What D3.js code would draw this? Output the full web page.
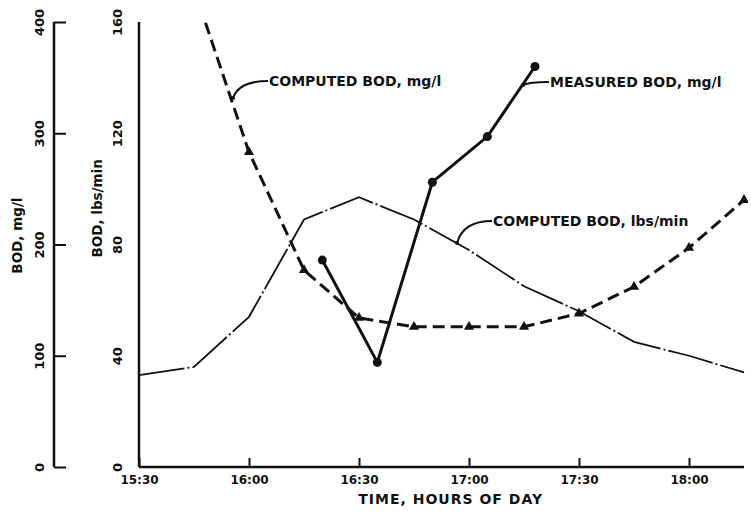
<!DOCTYPE html>
<html>
<head>
<meta charset="utf-8">
<script src="https://cdnjs.cloudflare.com/ajax/libs/d3/7.8.5/d3.min.js"></script>
<style>
  body { margin: 0; background: #fff; }
  text { font-family: "DejaVu Sans", sans-serif; font-weight: bold; fill: #111; }
</style>
</head>
<body>
<svg id="chart" width="751" height="518"></svg>
<script>
// computed BOD in lbs/min (thin dash-dot line)
const lbsTimes = ["15:30", "15:45", "16:00", "16:15", "16:30", "16:45", "17:00", "17:15", "17:30", "17:45", "18:00", "18:15"];
const lbsValues = [33, 36, 54, 89, 97, 89, 78, 65, 56, 45, 40, 34];

// computed BOD in mg/l (dashed line, triangles)
const mgTimes = ["15:45", "16:00", "16:15", "16:30", "16:45", "17:00", "17:15", "17:30", "17:45", "18:00", "18:15"];
const mgValues = [430, 283, 177, 134, 126, 126, 126, 138, 162, 197, 240];

// measured BOD in mg/l (solid line, dots)
const measTimes = ["16:20", "16:35", "16:50", "17:05", "17:18"];
const measValues = [186, 94, 256, 297, 360];

const xTickLabels = ["15:30", "16:00", "16:30", "17:00", "17:30", "18:00"];
const mgTicks = [0, 100, 200, 300, 400];
const lbsTicks = [0, 40, 80, 120, 160];

const parse = d3.timeParse("%H:%M");
const ink = "#111";

const svg = d3.select("#chart");

const x = d3.scaleTime()
    .domain([parse("15:30"), parse("18:15")])
    .range([139, 744]);

const yMg = d3.scaleLinear().domain([0, 400]).range([467, 22]);
const yLbs = d3.scaleLinear().domain([0, 160]).range([467, 22]);

// clip to the plot area
svg.append("clipPath").attr("id", "plot")
    .append("rect")
    .attr("x", x.range()[0]).attr("y", yMg(400))
    .attr("width", x.range()[1] - x.range()[0] + 4)
    .attr("height", yMg(0) - yMg(400));

// outer axis: BOD mg/l
const mgAxis = svg.append("g")
    .attr("transform", "translate(54,0)")
    .call(d3.axisLeft(yMg).tickValues(mgTicks).tickSize(-12).tickPadding(0));
mgAxis.select(".domain").attr("d", "M0," + yMg(0) + "V" + yMg(400)).attr("stroke", ink).attr("stroke-width", 2.5);
mgAxis.selectAll(".tick line").attr("stroke", ink).attr("stroke-width", 2);
mgAxis.selectAll(".tick text")
    .attr("transform", "rotate(-90)")
    .attr("x", 0).attr("y", -10).attr("dy", 0)
    .attr("text-anchor", "middle")
    .style("font-size", "13px");

svg.append("text")
    .attr("transform", "translate(22," + yMg(208) + ") rotate(-90)")
    .attr("text-anchor", "middle")
    .style("font-size", "13.5px")
    .text("BOD, mg/l");

// inner axis: BOD lbs/min
const lbsAxis = svg.append("g")
    .attr("transform", "translate(" + x.range()[0] + ",0)")
    .call(d3.axisLeft(yLbs).tickValues(lbsTicks).tickSize(0).tickPadding(0));
lbsAxis.select(".domain").attr("d", "M0," + yLbs(0) + "V" + yLbs(160)).attr("stroke", ink).attr("stroke-width", 2.5);
lbsAxis.selectAll(".tick text")
    .attr("transform", "rotate(-90)")
    .attr("x", 0).attr("y", -17).attr("dy", 0)
    .attr("text-anchor", "middle")
    .style("font-size", "13px");

svg.append("text")
    .attr("transform", "translate(102," + yLbs(93) + ") rotate(-90)")
    .attr("text-anchor", "middle")
    .style("font-size", "13.5px")
    .text("BOD, lbs/min");

// time axis
const xAxis = svg.append("g")
    .attr("transform", "translate(0," + yLbs(0) + ")")
    .call(d3.axisBottom(x)
        .tickValues(xTickLabels.map(parse))
        .tickSize(-9)
        .tickPadding(8)
        .tickFormat(d3.timeFormat("%H:%M")));
xAxis.select(".domain").attr("d", "M" + x.range()[0] + ",0H" + x.range()[1]).attr("stroke", ink).attr("stroke-width", 2.5);
xAxis.selectAll(".tick line").attr("stroke", ink).attr("stroke-width", 2);
xAxis.selectAll(".tick text").style("font-size", "12px");

svg.append("text")
    .attr("x", x(parse("16:55")))
    .attr("y", 504)
    .attr("text-anchor", "middle")
    .style("font-size", "14px")
    .style("letter-spacing", "1px")
    .text("TIME, HOURS OF DAY");

const plot = svg.append("g").attr("clip-path", "url(#plot)");

// computed lbs/min
const lbsData = lbsTimes.map((t, i) => ({ t: parse(t), v: lbsValues[i] }));
plot.append("path")
    .datum(lbsData)
    .attr("fill", "none")
    .attr("stroke", ink)
    .attr("stroke-width", 1.8)
    .attr("stroke-dasharray", "46,3,2,3")
    .attr("d", d3.line().x(d => x(d.t)).y(d => yLbs(d.v)));

// computed mg/l
const mgData = mgTimes.map((t, i) => ({ t: parse(t), v: mgValues[i] }));
plot.append("path")
    .datum(mgData)
    .attr("fill", "none")
    .attr("stroke", ink)
    .attr("stroke-width", 3)
    .attr("stroke-dasharray", "12,6")
    .attr("d", d3.line().x(d => x(d.t)).y(d => yMg(d.v)));

plot.selectAll(".tri")
    .data(mgData.filter(d => d.v <= 400))
    .enter().append("path")
    .attr("class", "tri")
    .attr("fill", ink)
    .attr("transform", d => "translate(" + x(d.t) + "," + yMg(d.v) + ")")
    .attr("d", d3.symbol(d3.symbolTriangle).size(45));

// measured mg/l
const measData = measTimes.map((t, i) => ({ t: parse(t), v: measValues[i] }));
plot.append("path")
    .datum(measData)
    .attr("fill", "none")
    .attr("stroke", ink)
    .attr("stroke-width", 3)
    .attr("d", d3.line().x(d => x(d.t)).y(d => yMg(d.v)));

plot.selectAll(".dot")
    .data(measData)
    .enter().append("circle")
    .attr("class", "dot")
    .attr("fill", ink)
    .attr("cx", d => x(d.t))
    .attr("cy", d => yMg(d.v))
    .attr("r", 4.5);

// callout labels with curved leaders
function callout(px, py, tx, ty, label) {
    svg.append("path")
        .attr("fill", "none")
        .attr("stroke", ink)
        .attr("stroke-width", 2)
        .attr("d", "M" + px + "," + py + " Q" + (px + 6) + "," + ty + " " + tx + "," + ty);
    svg.append("circle").attr("cx", px).attr("cy", py).attr("r", 2).attr("fill", ink);
    svg.append("text")
        .attr("x", tx + 1)
        .attr("y", ty + 5)
        .style("font-size", "14px")
        .text(label);
}

callout(233, 98, 268, 81, "COMPUTED BOD, mg/l");
callout(523, 85, 549, 82, "MEASURED BOD, mg/l");
callout(457, 243, 492, 221, "COMPUTED BOD, lbs/min");
</script>
</body>
</html>
